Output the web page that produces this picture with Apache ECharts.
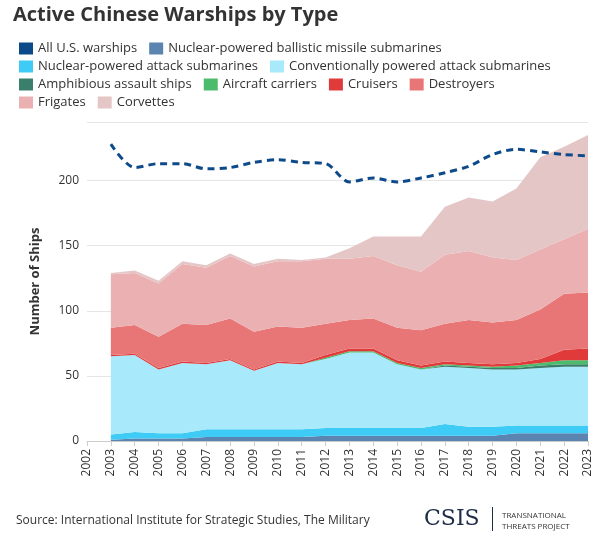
<!DOCTYPE html>
<html>
<head>
<meta charset="utf-8">
<script src="https://cdn.jsdelivr.net/npm/echarts@6/dist/echarts.min.js"></script>
<style>body{margin:0;background:#fff}#chart{width:615px;height:535px}</style>
</head>
<body>
<div id="chart"></div>
<script>
var years = ['2002','2003','2004','2005','2006','2007','2008','2009','2010','2011','2012','2013','2014','2015','2016','2017','2018','2019','2020','2021','2022','2023'];

// 2003-2023 (2002 empty)
var usWarships = [228,210,213,213,209,210,214,216,214,213,199,202,199,202,206,211,220,224,222,220,219];
var ssbn = [1,2,2,2,3,3,3,3,3,4,4,4,4,4,4,4,4,6,6,6,6];
var ssn = [4,5,4,4,6,6,6,6,6,6,6,6,6,6,9,7,7,6,6,6,6];
var ssk = [60,59,49,54,50,53,45,51,50,53,58,58,49,45,44,45,44,43,44,45,45];
var amphib = [0,0,0,0,0,0,0,0,0,0,0,0,0,0,1,1,1,1,2,2,2];
var carriers = [0,0,0,0,0,0,0,0,0,1,1,1,1,1,1,1,1,2,2,3,3];
var cruisers = [1,1,1,1,1,1,1,1,1,2,2,2,2,2,2,2,2,2,3,8,9];
var destroyers = [21,22,24,29,29,31,29,27,27,24,22,23,25,27,29,33,32,33,38,43,43];
var frigates = [41,40,41,46,44,48,50,50,51,50,47,48,48,45,53,53,50,46,46,42,49];
var corvettes = [1,2,2,2,2,2,2,2,1,1,8,15,22,27,37,41,43,55,71,71,72];

function pad(arr) { return [null].concat(arr); }

var layers = [
    ['Nuclear-powered ballistic missile submarines', ssbn, '#5b84b1'],
    ['Nuclear-powered attack submarines', ssn, '#3ecbf5'],
    ['Conventionally powered attack submarines', ssk, '#a8e9fb'],
    ['Amphibious assault ships', amphib, '#3a7f6b'],
    ['Aircraft carriers', carriers, '#4cbb6c'],
    ['Cruisers', cruisers, '#e03a3a'],
    ['Destroyers', destroyers, '#e87676'],
    ['Frigates', frigates, '#ebb0b1'],
    ['Corvettes', corvettes, '#e5c6c7']
];

var series = layers.map(function (l) {
    return {
        name: l[0], type: 'line', stack: 'ships', data: pad(l[1]),
        symbol: 'none', lineStyle: {width: 0}, color: l[2],
        areaStyle: {color: l[2], opacity: 1}
    };
});
series.push({
    name: 'All U.S. warships', type: 'line', data: pad(usWarships), smooth: 0.3,
    symbol: 'none', color: '#0d4a8a', lineStyle: {type: [7, 5], width: 3, color: '#0d4a8a'}
});

function leg(top, left, names) {
    return {top: top, left: left, data: names, icon: 'rect', itemWidth: 14, itemHeight: 12, itemGap: 12,
        textStyle: {fontSize: 13, color: '#333', fontFamily: 'Open Sans'}, selectedMode: false};
}

var chart = echarts.init(document.getElementById('chart'));
chart.setOption({
    animation: false,
    title: {text: 'Active Chinese Warships by Type', left: 8, top: 0,
        textStyle: {fontSize: 20, fontWeight: 'bold', color: '#333', fontFamily: 'Open Sans'}},
    legend: [
        leg(37, 14, ['All U.S. warships', 'Nuclear-powered ballistic missile submarines']),
        leg(55, 14, ['Nuclear-powered attack submarines', 'Conventionally powered attack submarines']),
        leg(73, 14, ['Amphibious assault ships', 'Aircraft carriers', 'Cruisers', 'Destroyers']),
        leg(91, 14, ['Frigates', 'Corvettes'])
    ],
    grid: {left: 87, right: 27, top: 122, bottom: 94},
    xAxis: {type: 'category', data: years, boundaryGap: false,
        axisLine: {lineStyle: {color: '#ccc'}}, axisTick: {show: true, alignWithLabel: true, lineStyle: {color: '#ccc'}},
        axisLabel: {rotate: 90, fontSize: 12, color: '#333', fontFamily: 'Open Sans'}},
    yAxis: {type: 'value', min: 0, max: 245, interval: 50, name: 'Number of Ships', nameLocation: 'middle',
        nameGap: 45, nameTextStyle: {fontSize: 13, fontWeight: 'bold', color: '#333', fontFamily: 'Open Sans'},
        axisLabel: {showMaxLabel: false, fontSize: 12, color: '#333', fontFamily: 'Open Sans'},
        splitLine: {lineStyle: {color: '#e6e6e6'}}},
    graphic: [
        {type: 'text', left: 16, top: 515, style: {text: 'Source: International Institute for Strategic Studies, The Military',
            fontSize: 12, fill: '#333', fontFamily: 'Open Sans'}},
        {type: 'text', left: 424, top: 508, style: {text: 'CSIS', fontSize: 22, fill: '#1f2d4a', fontFamily: 'DejaVu Serif'}},
        {type: 'rect', left: 492, top: 507, shape: {width: 1, height: 24}, style: {fill: '#1f2d4a'}},
        {type: 'text', left: 502, top: 510, style: {text: 'TRANSNATIONAL\nTHREATS PROJECT', fontSize: 8, lineHeight: 11,
            fill: '#333', fontFamily: 'Open Sans'}}
    ],
    series: series
});
</script>
</body>
</html>
